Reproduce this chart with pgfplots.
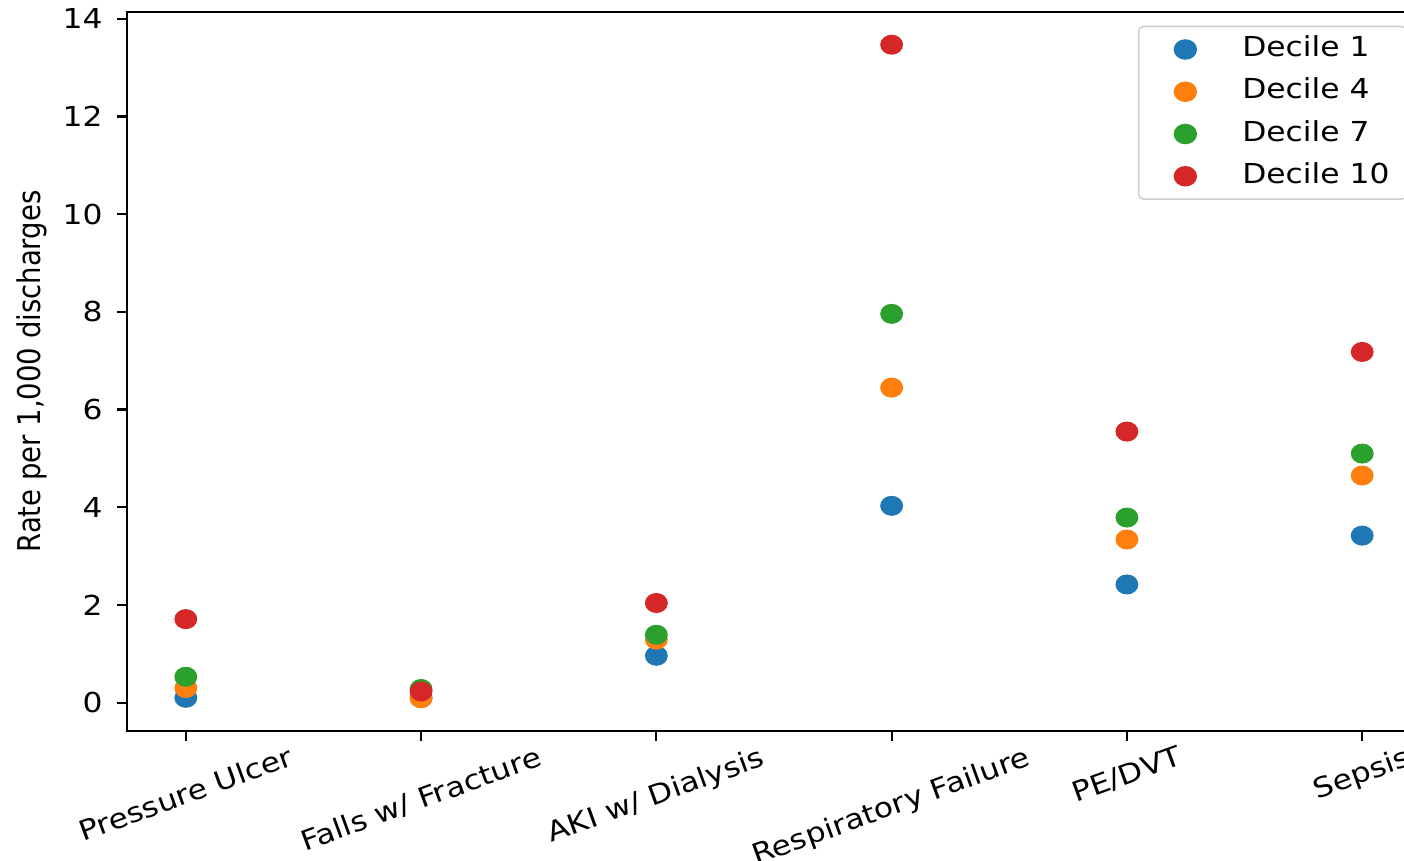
\documentclass[border=0pt]{standalone}
\usepackage{fontspec}
\setmainfont{DejaVu Sans}[FakeStretch=1.14]
\newfontfamily\ylfont{DejaVu Sans}
\usepackage{graphicx}
\usepackage{pgfplots}
\pgfplotsset{compat=1.18}
\definecolor{c0}{HTML}{1F77B4}
\definecolor{c1}{HTML}{FF7F0E}
\definecolor{c2}{HTML}{2CA02C}
\definecolor{c3}{HTML}{D62728}
\begin{document}
\fontsize{11pt}{13pt}\selectfont
\begin{tikzpicture}
\begin{axis}[
  scale only axis, width=517.6pt, height=287.6pt,
  xmin=-0.25, xmax=5.25, ymin=-0.58, ymax=14.14,
  xtick={0,1,2,3,4,5},
  xticklabels={\rotatebox{20}{Pressure Ulcer},\rotatebox{20}{Falls w/ Fracture},\rotatebox{20}{AKI w/ Dialysis},\rotatebox{20}{Respiratory Failure},\rotatebox{20}{PE/DVT},\rotatebox{20}{Sepsis}},
  ytick={0,2,4,6,8,10,12,14},
  tick align=outside, tick pos=left, major tick length=3.9pt,
  axis line style={line width=0.9pt},
  every tick/.style={black, line width=0.9pt},
  /pgf/number format/assume math mode=true,
  tick label style={font=\fontsize{11pt}{13pt}\selectfont},
  xticklabel style={anchor=north, inner sep=0pt, yshift=-1.6pt},
  yticklabel style={anchor=east, inner sep=0pt, xshift=-5.7pt},
  ylabel={\scalebox{1}[1.14]{Rate per 1,000 discharges}},
  every axis y label/.style={at={(axis description cs:0,0.5)}, xshift=-38.2pt, rotate=90, anchor=center, font=\ylfont\fontsize{11pt}{13pt}\selectfont},
  legend cell align=left,
  legend image code/.code={\path (0pt,0pt); \draw[#1] plot coordinates {(11.6pt,0pt)};},
  legend style={at={(1,1)}, anchor=north east, xshift=-5.5pt, yshift=-5.5pt,
    draw=black!20, line width=0.6pt, rounded corners=2pt, fill=white,
    inner xsep=6.8pt, inner ysep=3.7pt, row sep=5.9pt, column sep=18.4pt,
    nodes={inner sep=0pt, text height=8.4pt, text depth=2.6pt},
    font=\fontsize{11pt}{13pt}\selectfont},
  every axis plot/.append style={only marks, mark=*, mark size=3.8pt, mark options={xscale=1.15}},
]
\addplot[color=c0] coordinates {(0,0.10) (1,0.10) (2,0.96) (3,4.03) (4,2.42) (5,3.42)};
\addlegendentry{Decile 1}
\addplot[color=c1] coordinates {(0,0.30) (1,0.09) (2,1.29) (3,6.45) (4,3.34) (5,4.65)};
\addlegendentry{Decile 4}
\addplot[color=c2] coordinates {(0,0.53) (1,0.28) (2,1.39) (3,7.96) (4,3.79) (5,5.10)};
\addlegendentry{Decile 7}
\addplot[color=c3] coordinates {(0,1.71) (1,0.23) (2,2.04) (3,13.47) (4,5.55) (5,7.18)};
\addlegendentry{Decile 10}
\end{axis}
\pgfresetboundingbox
\path[use as bounding box] (-50.8pt,-52pt) rectangle (510.8pt,292.4pt);
\end{tikzpicture}
\end{document}
